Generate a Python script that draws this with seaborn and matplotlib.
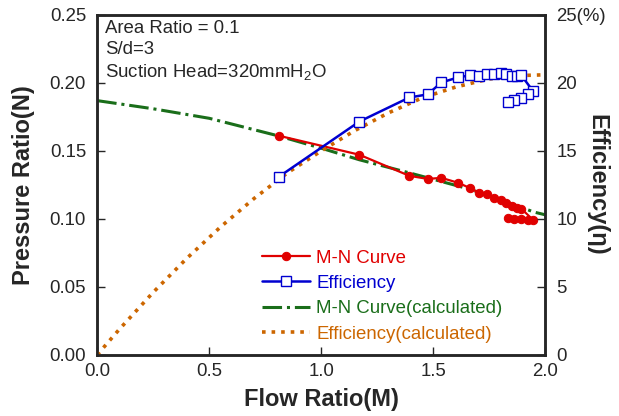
import numpy as np
import pandas as pd
import matplotlib
matplotlib.use('Agg')
import matplotlib.pyplot as plt
import seaborn as sns

# measured data (upper branch ascending in M, then the lower points back down)
flow_ratio = [0.810, 1.170, 1.393, 1.475, 1.536, 1.612, 1.662, 1.705, 1.741, 1.770,
              1.800, 1.825, 1.850, 1.875, 1.893,
              1.946, 1.922, 1.893, 1.862, 1.835]
pressure_ratio = [0.1612, 0.1472, 0.1317, 0.1294, 0.1302, 0.1265, 0.1228, 0.1191, 0.1183, 0.1154,
                  0.1139, 0.1117, 0.1095, 0.1080, 0.1075,
                  0.0991, 0.0991, 0.0999, 0.0999, 0.1006]
efficiency = [13.09, 17.16, 18.93, 19.16, 20.04, 20.41, 20.56, 20.49, 20.64, 20.64,
              20.71, 20.65, 20.49, 20.49, 20.56,
              19.38, 19.16, 18.86, 18.71, 18.57]

# calculated curves
calc_flow_n = [0.0, 0.25, 0.5, 0.81, 1.0, 1.17, 1.39, 1.66, 1.8, 1.95, 2.0]
calc_pressure = [0.187, 0.181, 0.174, 0.161, 0.152, 0.1435, 0.134, 0.122, 0.114, 0.105, 0.103]
calc_flow_eff = [0.0, 0.1, 0.25, 0.4, 0.55, 0.7, 0.85, 1.0, 1.15, 1.3, 1.45, 1.6, 1.75, 1.9, 2.0]
calc_efficiency = [0.0, 1.9, 4.6, 7.1, 9.4, 11.5, 13.4, 15.0, 16.5, 17.8, 18.9, 19.7, 20.3, 20.55, 20.6]

meas = pd.DataFrame({'M': flow_ratio, 'N': pressure_ratio, 'eff': efficiency})
calc_n = pd.DataFrame({'M': calc_flow_n, 'N': calc_pressure})
calc_e = pd.DataFrame({'M': calc_flow_eff, 'eff': calc_efficiency})

sns.set_style('ticks')
plt.rcParams['font.family'] = ['Liberation Sans', 'DejaVu Sans']
plt.rcParams['mathtext.fontset'] = 'custom'
plt.rcParams['mathtext.rm'] = 'Liberation Sans'

red = '#e00000'
blue = '#0000d0'
green = '#1a6e1a'
orange = '#cc6600'
fs = 13.4

fig, ax = plt.subplots(figsize=(6.19, 4.16), dpi=100)
fig.subplots_adjust(left=0.157, right=0.881, bottom=0.147, top=0.964)
ax2 = ax.twinx()

sns.lineplot(data=calc_n, x='M', y='N', ax=ax, color=green, lw=2.2, linestyle='-.',
             sort=False, estimator=None, label='M-N Curve(calculated)', legend=False)
sns.lineplot(data=meas, x='M', y='N', ax=ax, color=red, lw=1.6, marker='o', markersize=6,
             markeredgecolor=red, sort=False, estimator=None, label='M-N Curve', legend=False)
sns.lineplot(data=calc_e, x='M', y='eff', ax=ax2, color=orange, lw=2.6, linestyle=':',
             sort=False, estimator=None, label='Efficiency(calculated)', legend=False)
sns.lineplot(data=meas, x='M', y='eff', ax=ax2, color=blue, lw=1.8, marker='s', markersize=7,
             markerfacecolor='white', markeredgecolor=blue, markeredgewidth=1.0,
             sort=False, estimator=None, label='Efficiency', legend=False)

ax.set_xlim(0, 2.0)
ax.set_ylim(0, 0.25)
ax2.set_ylim(0, 25)
ax.set_xticks(np.arange(0, 2.01, 0.5))
ax.set_yticks(np.arange(0, 0.251, 0.05))
ax2.set_yticks(np.arange(0, 26, 5))
ax.set_xticklabels([f'{v:.1f}' for v in np.arange(0, 2.01, 0.5)])
ax.set_yticklabels([f'{v:.2f}' for v in np.arange(0, 0.251, 0.05)])
ax2.set_yticklabels(['0', '5', '10', '15', '20', '25(%)'])

for a in (ax, ax2):
    a.tick_params(direction='in', length=6, width=1, labelsize=fs)
    for s in a.spines.values():
        s.set_linewidth(1.8)
        s.set_visible(True)
ax.tick_params(axis='y', pad=8)
ax.tick_params(axis='x', pad=6)
ax2.tick_params(axis='y', pad=8)

ax.set_xlabel('Flow Ratio(M)', fontsize=17, fontweight='bold')
ax.set_ylabel('Pressure Ratio(N)', fontsize=17, fontweight='bold')
ax2.set_ylabel('Efficiency(\u03b7)', fontsize=17, fontweight='bold', rotation=270,
               va='center', ha='center')
ax.xaxis.set_label_coords(0.5, -0.097)
ax.yaxis.set_label_coords(-0.138, 0.5)
ax2.yaxis.set_label_coords(1.116, 0.5)

ax.text(0.018, 0.985, 'Area Ratio = 0.1\nS/d=3\nSuction Head=320mmH$_{\\mathregular{2}}$O',
        transform=ax.transAxes, fontsize=fs, va='top', ha='left', linespacing=1.3)

h1, l1 = ax.get_legend_handles_labels()
h2, l2 = ax2.get_legend_handles_labels()
handles = [h1[1], h2[1], h1[0], h2[0]]
labels = [l1[1], l2[1], l1[0], l2[0]]
leg = ax2.legend(handles, labels, loc='upper left', bbox_to_anchor=(0.368, 0.31),
                 frameon=False, fontsize=fs, handlelength=2.6, handletextpad=0.3,
                 labelspacing=0.45, borderaxespad=0, borderpad=0)
for txt, c in zip(leg.get_texts(), [red, blue, green, orange]):
    txt.set_color(c)

plt.savefig('out.png', dpi=100)
